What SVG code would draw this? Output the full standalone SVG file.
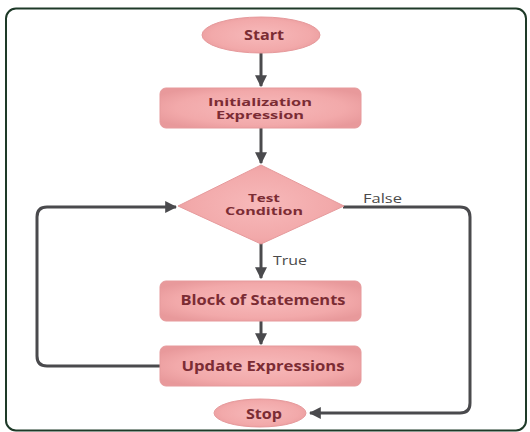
<svg xmlns="http://www.w3.org/2000/svg" width="530" height="432" viewBox="0 0 530 432">
<style>
.node{fill:url(#pink);stroke:#e69a9c;stroke-width:1}
.t{font-family:"Open Sans","DejaVu Sans",sans-serif;font-weight:bold;font-size:14px;fill:#7b2c34;text-anchor:middle}
.t2{font-size:11px}
.lbl{font-family:"Open Sans","DejaVu Sans",sans-serif;font-size:12.5px;fill:#4a4a4a}
.c{fill:none;stroke:#4a4a4d;stroke-width:3}
</style>
<defs>
<radialGradient id="pink" cx="50%" cy="50%" r="60%">
<stop offset="0" stop-color="#f7b9ba"/>
<stop offset="0.7" stop-color="#f2a9aa"/>
<stop offset="1" stop-color="#e8999b"/>
</radialGradient>
<marker id="ah" viewBox="0 0 10 10" refX="9" refY="5" markerWidth="4" markerHeight="4" markerUnits="strokeWidth" orient="auto">
<path d="M0,0 L10,5 L0,10 z" fill="#4a4a4d"/>
</marker>
</defs>
<rect x="0" y="0" width="530" height="432" fill="#ffffff"/>
<rect x="6" y="8.5" width="520" height="422" rx="10" fill="#ffffff" stroke="#1e3a28" stroke-width="2"/>
<g id="connectors">
<line class="c" x1="261" y1="53" x2="261" y2="86" marker-end="url(#ah)"/>
<line class="c" x1="261" y1="128" x2="261" y2="163" marker-end="url(#ah)"/>
<line class="c" x1="261" y1="243" x2="261" y2="278" marker-end="url(#ah)"/>
<line class="c" x1="261" y1="320" x2="261" y2="344" marker-end="url(#ah)"/>
<path class="c" d="M160,366 H47 Q37,366 37,356 V217 Q37,207 47,207 H176" marker-end="url(#ah)"/>
<path class="c" d="M343,207 H460 Q470,207 470,217 V403 Q470,413 460,413 H310" marker-end="url(#ah)"/>
<text class="lbl" x="363" y="203" textLength="39" lengthAdjust="spacingAndGlyphs">False</text>
<text class="lbl" x="273" y="265" textLength="34" lengthAdjust="spacingAndGlyphs">True</text>
</g>
<g id="start">
<ellipse class="node" cx="261" cy="35" rx="59" ry="18"/>
<text class="t" x="264" y="40" textLength="40" lengthAdjust="spacingAndGlyphs">Start</text>
</g>
<g id="init">
<rect class="node" x="160" y="88" width="201" height="40" rx="6"/>
<text class="t t2" x="260" y="105.5" textLength="104" lengthAdjust="spacingAndGlyphs">Initialization</text>
<text class="t t2" x="260" y="118.5" textLength="88" lengthAdjust="spacingAndGlyphs">Expression</text>
</g>
<g id="test">
<polygon class="node" points="261,165 344,206 261,244 178,206"/>
<text class="t t2" x="264" y="201.5" textLength="32" lengthAdjust="spacingAndGlyphs">Test</text>
<text class="t t2" x="264" y="214.5" textLength="78" lengthAdjust="spacingAndGlyphs">Condition</text>
</g>
<g id="block">
<rect class="node" x="160" y="281" width="201" height="40" rx="6"/>
<text class="t" x="263" y="305" textLength="165" lengthAdjust="spacingAndGlyphs">Block of Statements</text>
</g>
<g id="update">
<rect class="node" x="160" y="346" width="201" height="40" rx="6"/>
<text class="t" x="263" y="371" textLength="163" lengthAdjust="spacingAndGlyphs">Update Expressions</text>
</g>
<g id="stop">
<ellipse class="node" cx="260" cy="413" rx="46" ry="14"/>
<text class="t" x="264" y="418.5" textLength="36" lengthAdjust="spacingAndGlyphs">Stop</text>
</g>
</svg>
